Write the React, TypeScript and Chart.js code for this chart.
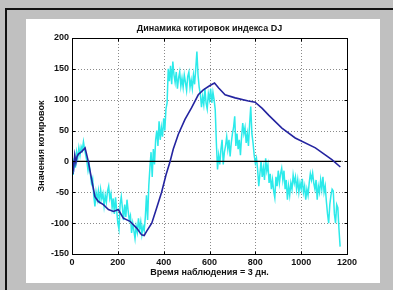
import React, { useEffect, useRef } from 'react';
import { Chart, registerables } from 'chart.js';

Chart.register(...registerables);

const TITLE = 'Динамика котировок индекса DJ';
const X_TITLE = 'Время наблюдения = 3 дн.';
const Y_TITLE = 'Значения котировок';

const X_TICKS = [0, 200, 400, 600, 800, 1000, 1200];
const Y_TICKS = [-150, -100, -50, 0, 50, 100, 150, 200];

// cyan series, one value every 5 observations starting at 0 (rows of 100 observations)
const CYAN_STEP = 5;
const cyanY = [
  18, -22, 5, -10, 15, 5, 22, 10, 24, 18, 32, 20, 10, 0, -15, -5, -20, -35, -28, -55,
  -73, -50, -62, -48, -68, -46, -60, -52, -72, -55, -66, -48, -40, -60, -52, -75, -60, -85, -58, -80,
  -100, -110, -70, -57, -75, -95, -70, -90, -62, -80, -95, -88, -116, -100, -112, -125, -105, -115, -92, -110,
  -98, -118, -105, -112, -90, -55, -95, -40, -10, 15, -25, 20, -5, 35, 50, 25, 65, 35, 55, 40,
  70, 50, 85, 95, 150, 130, 155, 125, 162, 140, 128, 145, 118, 135, 145, 122, 135, 120, 140, 128,
  115, 138, 145, 120, 132, 118, 140, 125, 150, 178, 140, 120, 110, 88, 105, 92, 118, 95, 85, 110,
  100, 118, 95, 112, 100, 84, 30, -13, 10, -5, 20, 35, -5, 15, 25, 40, 20, 35, 8, 30,
  45, 55, 73, 25, 45, 20, 35, 10, 40, 62, 45, 55, 30, 45, 25, 60, 89, 45, 30, 10,
  -3, 5, -13, -40, -20, 0, -25, -10, -30, 5, -15, -5, -35, -20, -45, -30, -48, -59, -25, -40,
  -15, -35, -20, -11, -30, -15, -45, -30, -62, -40, -55, -35, -45, -22, -35, -25, -45, -30, -50, -35,
  -45, -28, -50, -40, -62, -45, -55, -35, -20, -30, -19, -35, -45, -30, -62, -40, -50, -30, -45, -25,
  -50, -40, -65, -85, -100, -70, -55, -45, -48, -85, -100, -70, -75, -110, -138,
];

const blueX = [
  0, 4, 8, 12, 17, 22, 28, 42, 57, 71, 86, 100, 115, 137, 159, 181, 202, 224, 253, 282,
  304, 315, 326, 348, 369, 391, 410, 428, 442, 464, 493, 522, 551, 573, 602, 622, 640, 668,
  712, 770, 799, 830, 858, 916, 974, 1062, 1134, 1171,
];
const blueY = [
  -19, 0, -8, 10, -2, 8, 12, 16, 22, 0, -30, -57, -65, -70, -78, -81, -78, -92, -97, -108,
  -119, -120, -113, -100, -76, -50, -22, 0, 20, 44, 68, 87, 108, 116, 123, 127, 119, 108,
  103, 98, 96, 86, 75, 54, 38, 22, 3, -9,
];

const zeroX = [0, 1175];
const zeroY = [0, 0];

const FONT_FAMILY = 'Arial, "Liberation Sans", sans-serif';

const gridPlugin = {
  id: 'dottedGrid',
  beforeDatasetsDraw(chart: any) {
    const { ctx, chartArea: a, scales } = chart;
    ctx.save();
    ctx.strokeStyle = '#8a8a8a';
    ctx.lineWidth = 1;
    ctx.setLineDash([1, 2]);
    ctx.beginPath();
    for (const v of X_TICKS) {
      const px = Math.round(scales.x.getPixelForValue(v)) + 0.5;
      ctx.moveTo(px, a.top);
      ctx.lineTo(px, a.bottom);
    }
    for (const v of Y_TICKS) {
      const py = Math.round(scales.y.getPixelForValue(v)) + 0.5;
      ctx.moveTo(a.left, py);
      ctx.lineTo(a.right, py);
    }
    ctx.stroke();
    ctx.restore();
  },
};

const framePlugin = {
  id: 'matlabFrame',
  afterDraw(chart: any) {
    const { ctx, chartArea: a, scales } = chart;
    ctx.save();
    ctx.strokeStyle = '#000';
    ctx.lineWidth = 1;
    const l = Math.round(a.left) + 0.5;
    const r = Math.round(a.right) + 0.5;
    const t = Math.round(a.top) + 0.5;
    const b = Math.round(a.bottom) + 0.5;
    ctx.strokeRect(l, t, r - l, b - t);
    ctx.beginPath();
    for (const v of X_TICKS) {
      const px = Math.round(scales.x.getPixelForValue(v)) + 0.5;
      ctx.moveTo(px, b);
      ctx.lineTo(px, b - 3);
      ctx.moveTo(px, t);
      ctx.lineTo(px, t + 3);
    }
    for (const v of Y_TICKS) {
      const py = Math.round(scales.y.getPixelForValue(v)) + 0.5;
      ctx.moveTo(l, py);
      ctx.lineTo(l + 3, py);
      ctx.moveTo(r, py);
      ctx.lineTo(r - 3, py);
    }
    ctx.stroke();
    ctx.fillStyle = '#111';
    ctx.font = `bold 9px ${FONT_FAMILY}`;
    ctx.textAlign = 'center';
    ctx.textBaseline = 'middle';
    ctx.fillText(TITLE, (a.left + a.right) / 2, 10);
    ctx.restore();
  },
};

export default function App() {
  const ref = useRef<HTMLCanvasElement | null>(null);

  useEffect(() => {
    if (!ref.current) return;
    const cyanData = cyanY.map((y, i) => ({ x: i * CYAN_STEP, y }));
    const blueData = blueY.map((y, i) => ({ x: blueX[i], y }));
    const zeroData = zeroY.map((y, i) => ({ x: zeroX[i], y }));
    const tickFont = { family: FONT_FAMILY, size: 9, weight: 'bold' };
    const chart = new Chart(ref.current, {
      type: 'line',
      data: {
        datasets: [
          {
            data: blueData,
            borderColor: '#2424a0',
            borderWidth: 1.6,
            pointRadius: 0,
            tension: 0,
          },
          {
            data: zeroData,
            borderColor: '#000',
            borderWidth: 1.3,
            pointRadius: 0,
          },
          {
            data: cyanData,
            borderColor: '#2ceaea',
            borderWidth: 1.5,
            pointRadius: 0,
            tension: 0,
          },
        ],
      },
      options: {
        animation: false,
        responsive: false,
        maintainAspectRatio: false,
        layout: { padding: { left: 10, right: 33, top: 19, bottom: 5 } },
        plugins: {
          legend: { display: false },
          tooltip: { enabled: false },
          title: { display: false },
        },
        scales: {
          x: {
            type: 'linear',
            min: 0,
            max: 1200,
            afterFit: (s: any) => {
              s.height = 24;
            },
            afterBuildTicks: (s: any) => {
              s.ticks = X_TICKS.map((v) => ({ value: v }));
            },
            ticks: {
              color: '#111',
              font: tickFont,
              padding: 3,
              maxRotation: 0,
              autoSkip: false,
              callback: (v: any) => String(v),
            },
            grid: { display: false, drawTicks: false },
            border: { display: false },
            title: {
              display: true,
              text: X_TITLE,
              color: '#111',
              font: tickFont,
              padding: 0,
            },
          },
          y: {
            type: 'linear',
            min: -150,
            max: 200,
            afterFit: (s: any) => {
              s.width = 36;
            },
            afterBuildTicks: (s: any) => {
              s.ticks = Y_TICKS.map((v) => ({ value: v }));
            },
            ticks: {
              color: '#111',
              font: tickFont,
              padding: 3,
              autoSkip: false,
              callback: (v: any) => String(v),
            },
            grid: { display: false, drawTicks: false },
            border: { display: false },
            title: {
              display: true,
              text: Y_TITLE,
              color: '#111',
              font: tickFont,
              padding: 0,
            },
          },
        },
      },
      plugins: [gridPlugin, framePlugin],
    } as any);
    return () => chart.destroy();
  }, []);

  return (
    <div
      style={{
        position: 'fixed',
        left: 0,
        top: 0,
        width: 393,
        height: 290,
        background: '#c0c0c0',
        overflow: 'hidden',
      }}
    >
      <div
        style={{
          position: 'absolute',
          left: 5,
          top: 8,
          width: 388,
          height: 282,
          borderTop: '2px solid #111',
          borderLeft: '2px solid #111',
          boxSizing: 'border-box',
        }}
      />
      <div
        style={{
          position: 'absolute',
          left: 26,
          top: 19,
          width: 354,
          height: 264,
          background: '#fff',
        }}
      >
        <canvas ref={ref} width={354} height={264} style={{ display: 'block', width: 354, height: 264 }} />
      </div>
    </div>
  );
}
